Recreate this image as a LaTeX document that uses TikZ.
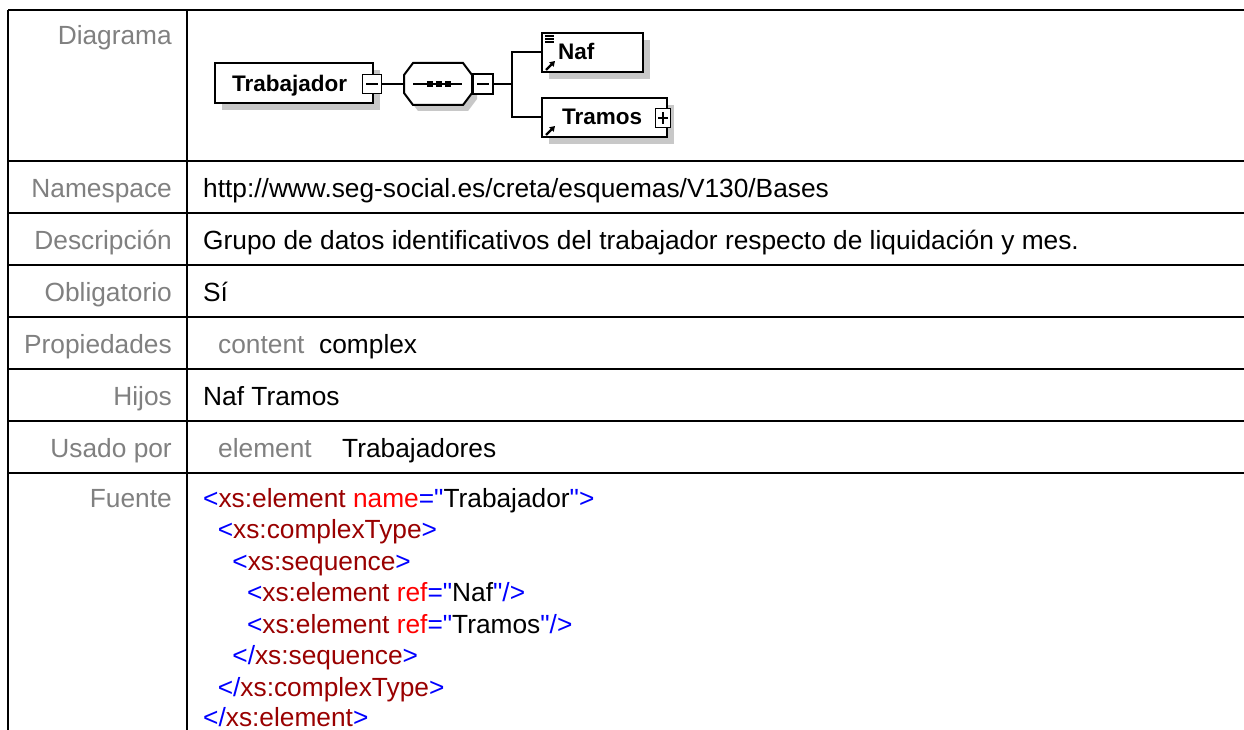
\documentclass[tikz,border=0pt]{standalone}
\usepackage{fontspec}
\setmainfont{Liberation Sans}[Ligatures=TeXOff]
\usetikzlibrary{shadows,calc,arrows.meta}
\definecolor{labgray}{RGB}{128,128,128}
\definecolor{shgray}{RGB}{200,200,200}
\definecolor{cblue}{RGB}{0,0,255}
\definecolor{cdred}{RGB}{153,0,0}
\definecolor{cred}{RGB}{255,0,0}
\newcommand{\cb}[1]{\textcolor{cblue}{#1}}
\newcommand{\ct}[1]{\textcolor{cdred}{#1}}
\newcommand{\ca}[1]{\textcolor{cred}{#1}}
\newcommand{\dq}{\symbol{34}}
\begin{document}
\begin{tikzpicture}[x=1pt,y=-1pt,
 gridline/.style={line width=2.6pt},
 lab/.style={anchor=base east, text=labgray, inner sep=0pt, font=\fontsize{26.3}{31.5}\selectfont},
 val/.style={anchor=base west, text=black, inner sep=0pt, font=\fontsize{26.3}{31.5}\selectfont},
 sublab/.style={val, text=labgray},
 elbox/.style={draw, line width=2pt, fill=white, rectangle, inner sep=0pt,
   drop shadow={shadow xshift=7pt, shadow yshift=-7pt, opacity=1, fill=shgray}},
 eltext/.style={anchor=base west, inner sep=0pt, font=\fontsize{22.5}{26}\selectfont\bfseries},
 tog/.style={draw, line width=1.6pt, fill=white, rectangle, inner sep=0pt, minimum width=19pt, minimum height=19pt},
 minus/.style={tog, path picture={\draw[line width=1.4pt] ([xshift=-6pt]path picture bounding box.center) -- ([xshift=6pt]path picture bounding box.center);}},
 plus/.style={tog, path picture={\draw[line width=1.4pt] ([xshift=-5pt]path picture bounding box.center) -- ([xshift=5pt]path picture bounding box.center) ([yshift=-6pt]path picture bounding box.center) -- ([yshift=6pt]path picture bounding box.center);}},
 conn/.style={line width=2pt},
 icon/.style={line width=1.2pt},
 refarrow/.style={line width=2.2pt, -{Triangle[length=5pt,width=6pt]}},
]
\useasboundingbox[fill=white] (0,0) rectangle (1244,730);

% table grid
\foreach \yy in {10,161,213,265,317,369,421,473}
  \draw[gridline] (8,\yy) -- (1244,\yy);
\draw[gridline] (8,10) -- (8,730);
\draw[gridline] (187,10) -- (187,730);

% labels
\node[lab] (lDiag) at (172,45) {Diagrama};
\node[lab] (lNs) at (172,197) {Namespace};
\node[lab] (lDesc) at (172,249) {Descripción};
\node[lab] (lObl) at (172,301) {Obligatorio};
\node[lab] (lProp) at (172,353) {Propiedades};
\node[lab] (lHij) at (172,405) {Hijos};
\node[lab] (lUsa) at (172,457) {Usado por};
\node[lab] (lFue) at (172,507) {Fuente};

% values
\node[val] (vNs) at (203,197) {http://www.seg-social.es/creta/esquemas/V130/Bases};
\node[val] (vDesc) at (203,249) {Grupo de datos identificativos del trabajador respecto de liquidación y mes.};
\node[val] (vObl) at (203,301) {Sí};
\node[sublab] (vPropK) at (218,353) {content};
\node[val] (vPropV) at (319,353) {complex};
\node[val] (vHij) at (203,405) {Naf Tramos};
\node[sublab] (vUsaK) at (218,457) {element};
\node[val] (vUsaV) at (342,457) {Trabajadores};

% source code
\node[val] (c1) at (203,507) {\cb{<}\ct{xs:element} \ca{name}\cb{=\dq}Trabajador\cb{\dq>}};
\node[val] (c2) at (217.6,538.5) {\cb{<}\ct{xs:complexType}\cb{>}};
\node[val] (c3) at (232.2,570) {\cb{<}\ct{xs:sequence}\cb{>}};
\node[val] (c4) at (246.8,601.5) {\cb{<}\ct{xs:element} \ca{ref}\cb{=\dq}Naf\cb{\dq/>}};
\node[val] (c5) at (246.8,633) {\cb{<}\ct{xs:element} \ca{ref}\cb{=\dq}Tramos\cb{\dq/>}};
\node[val] (c6) at (232.2,664.5) {\cb{</}\ct{xs:sequence}\cb{>}};
\node[val] (c7) at (217.6,696) {\cb{</}\ct{xs:complexType}\cb{>}};
\node[val] (c8) at (203,726) {\cb{</}\ct{xs:element}\cb{>}};

% diagram
\node[elbox, minimum width=158pt, minimum height=40pt] (trab) at (294,83) {};
\node[eltext] (trabt) at (232,91.5) {Trabajador};
\node[minus] (m1) at (372,84) {};

\coordinate (seqW) at (404,84);
\coordinate (seqE) at (472,84);
\draw[line width=2pt, fill=white, drop shadow={shadow xshift=5pt, shadow yshift=-6pt, opacity=1, fill=shgray}]
  (413,63) -- (463,63) -- (472,75) -- (472,93) -- (463,105) -- (413,105) -- (404,93) -- (404,75) -- cycle;
\draw[line width=1.6pt] (413,84) -- (462,84);
\fill (427,81) rectangle (433,87);
\fill (436,81) rectangle (442,87);
\fill (445,81) rectangle (451,87);
\node[minus, minimum width=20pt, minimum height=20pt] (m2) at (483,84) {};

\coordinate (j) at (512,84);
\node[elbox, minimum width=101pt, minimum height=39pt] (naf) at (592.5,52.5) {};
\node[elbox, minimum width=125pt, minimum height=39pt] (tram) at (604.5,117.5) {};
\node[plus, minimum width=15pt, minimum height=19pt] (p1) at (663,118) {};

\draw[conn] (m1.east) -- (seqW);
\draw[conn] (m2.east) -- (j);
\draw[conn] (naf.west) -| (j) |- (tram.west);

\node[eltext] (naft) at (558,60) {Naf};
\node[eltext] (tramt) at (562,125) {Tramos};
\draw[icon] (545,36) -- (554,36) (545,39) -- (554,39) (545,42) -- (554,42);
\draw[refarrow] (546,70) -- (555,61);
\draw[refarrow] (546,135) -- (555,126);
\end{tikzpicture}
\end{document}
